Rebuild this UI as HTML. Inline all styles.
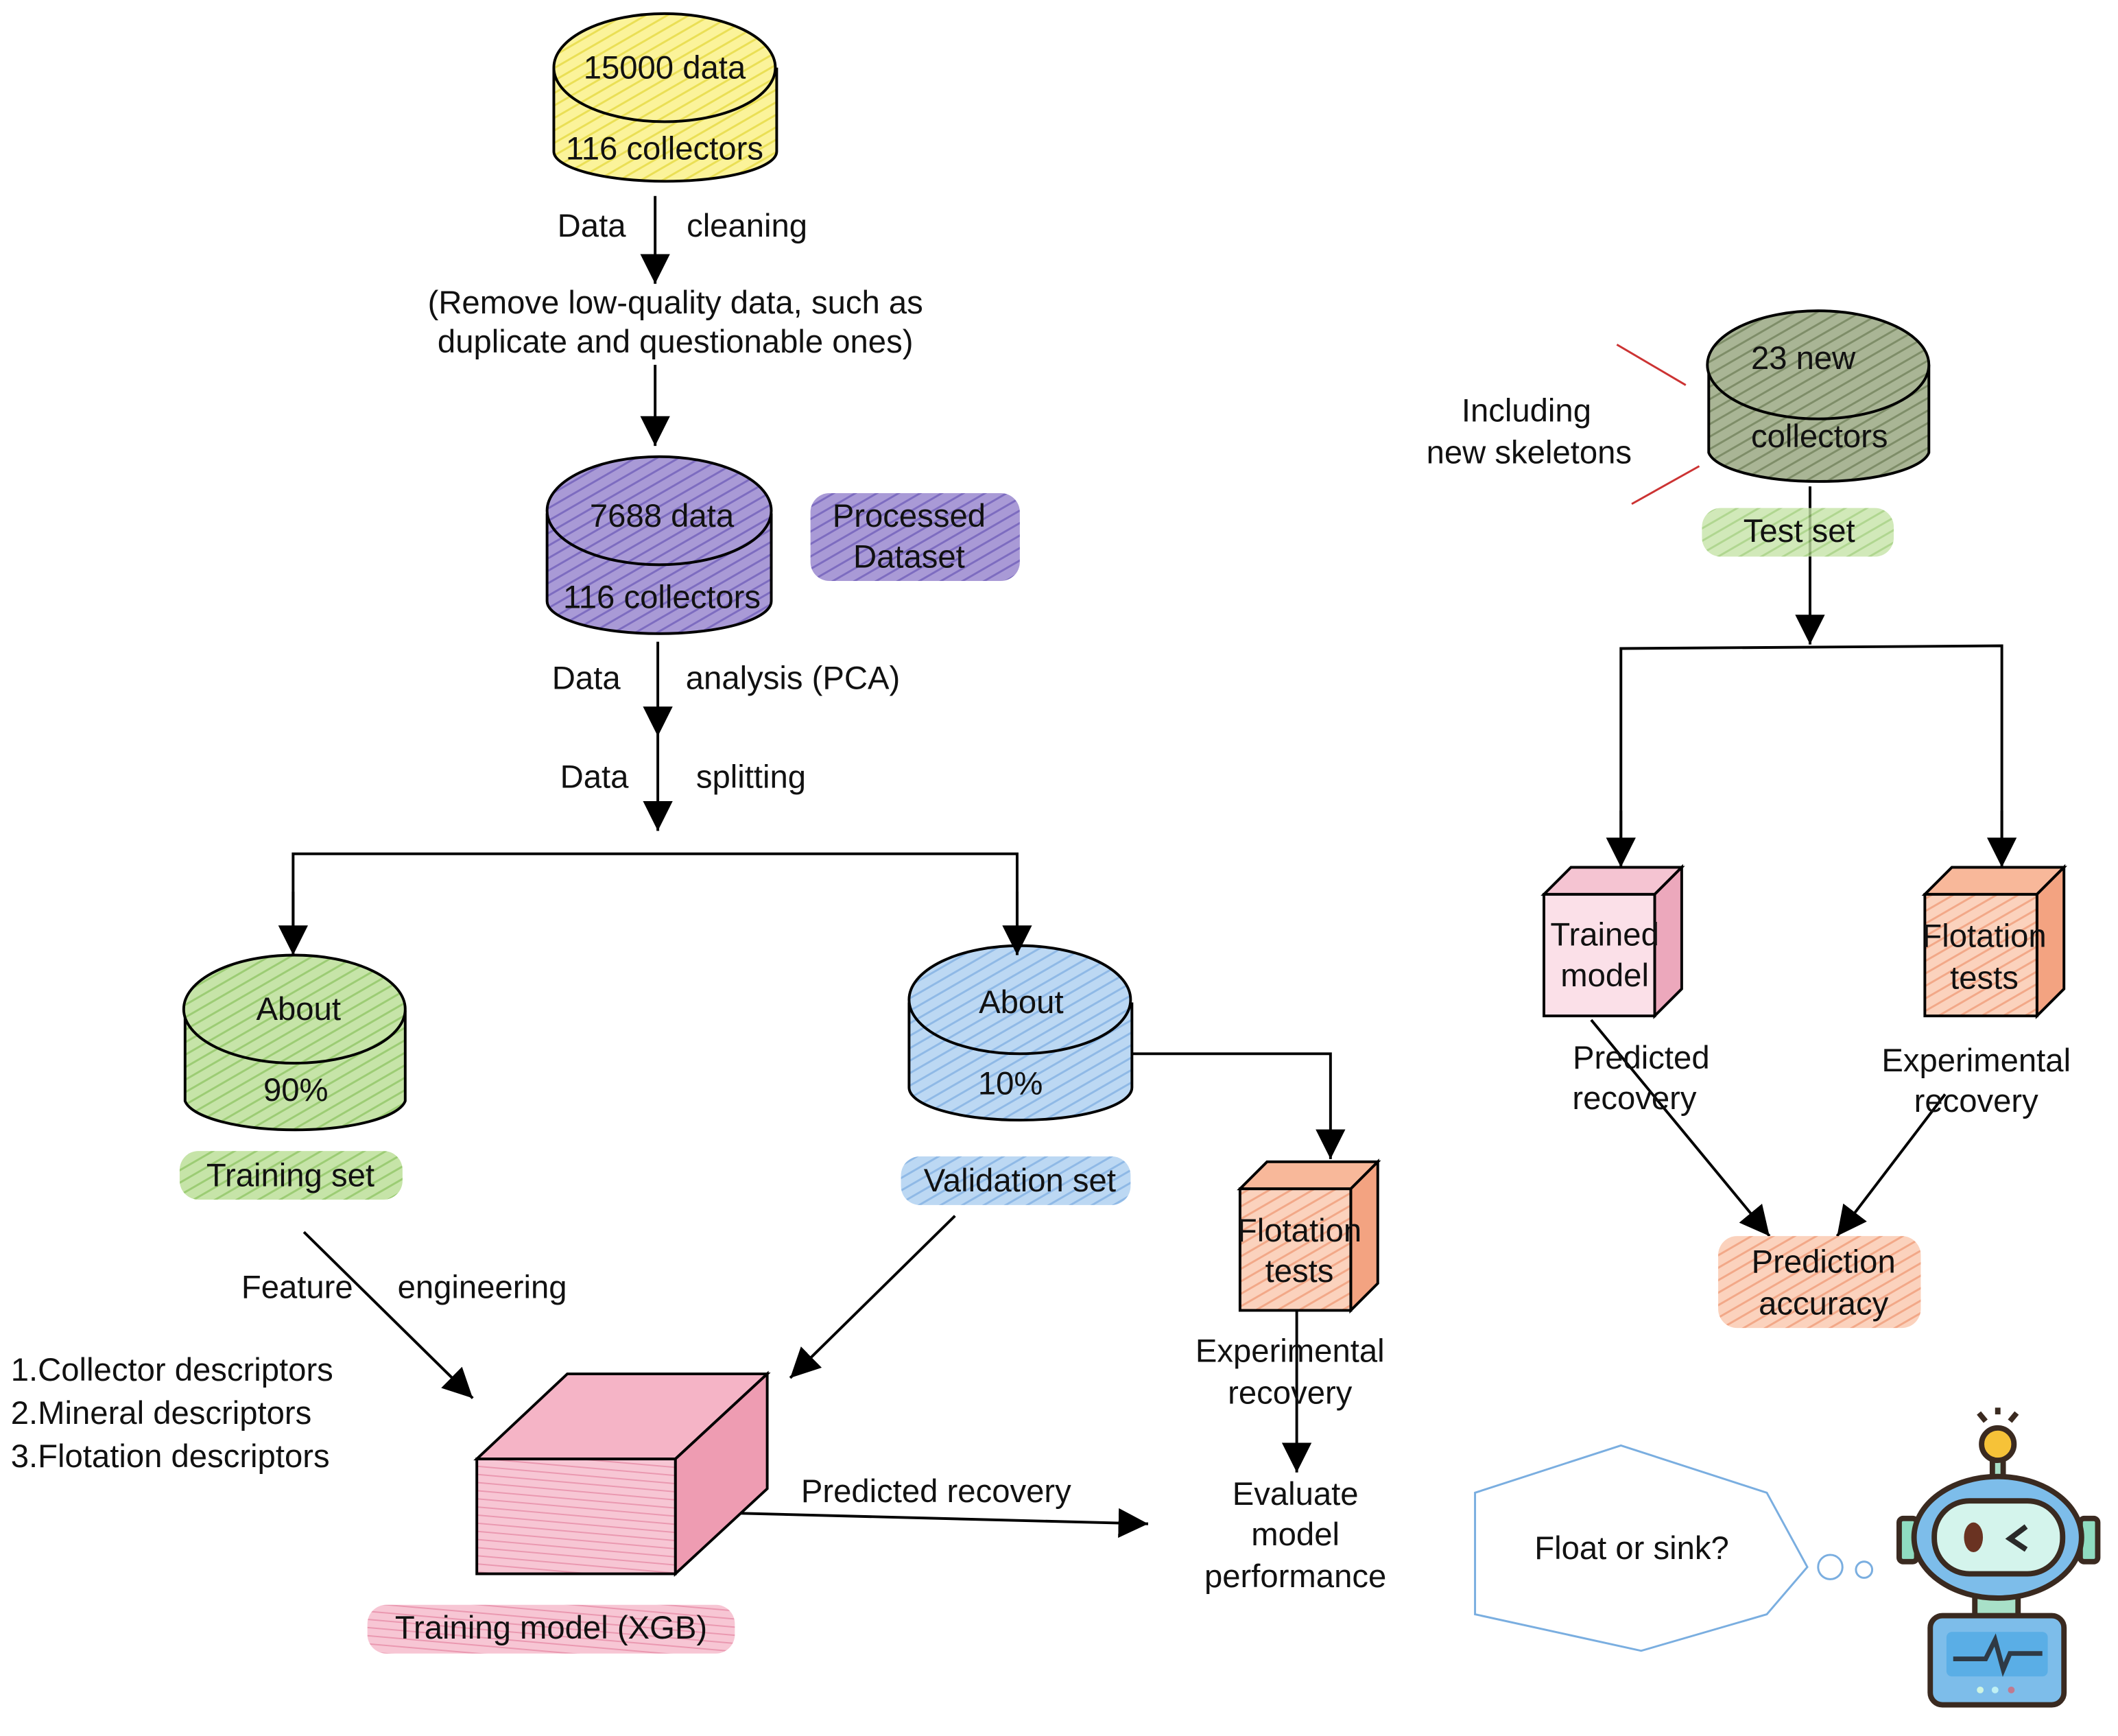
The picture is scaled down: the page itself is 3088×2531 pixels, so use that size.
<!DOCTYPE html>
<html><head><meta charset="utf-8"><style>
html,body{margin:0;padding:0;background:#fff;}
svg{display:block;}
text{font-family:"Liberation Sans",sans-serif;font-size:24px;fill:#111;text-anchor:middle;}
</style></head><body>
<svg width="3088" height="2531" viewBox="0 0 1568 1285" xmlns="http://www.w3.org/2000/svg">
<defs>
<marker id="ar" viewBox="0 0 10 10" refX="9" refY="5" markerWidth="8" markerHeight="8" markerUnits="userSpaceOnUse" orient="auto">
<path d="M0,0 L10,5 L0,10 z" fill="#000"/></marker>
<marker id="a" viewBox="0 0 10 10" refX="10" refY="5" markerWidth="22" markerHeight="22" markerUnits="userSpaceOnUse" orient="auto">
<path d="M0,0 L10,5 L0,10 z" fill="#000"/></marker>
<pattern id="hy" width="8" height="8" patternUnits="userSpaceOnUse" patternTransform="rotate(60)"><rect width="8" height="8" fill="#fbf39a"/><line x1="0" y1="0" x2="0" y2="8" stroke="#eadf55" stroke-width="3"/></pattern>
<pattern id="hp" width="8" height="8" patternUnits="userSpaceOnUse" patternTransform="rotate(60)"><rect width="8" height="8" fill="#a99ad6"/><line x1="0" y1="0" x2="0" y2="8" stroke="#7d6cc0" stroke-width="3"/></pattern>
<pattern id="hg" width="8" height="8" patternUnits="userSpaceOnUse" patternTransform="rotate(60)"><rect width="8" height="8" fill="#c6e4a8"/><line x1="0" y1="0" x2="0" y2="8" stroke="#9ccc74" stroke-width="3"/></pattern>
<pattern id="hb" width="8" height="8" patternUnits="userSpaceOnUse" patternTransform="rotate(60)"><rect width="8" height="8" fill="#bcd8f3"/><line x1="0" y1="0" x2="0" y2="8" stroke="#8fb9e6" stroke-width="3"/></pattern>
<pattern id="ho" width="8" height="8" patternUnits="userSpaceOnUse" patternTransform="rotate(60)"><rect width="8" height="8" fill="#a9b595"/><line x1="0" y1="0" x2="0" y2="8" stroke="#7e8d68" stroke-width="3"/></pattern>
<pattern id="hr" width="8" height="8" patternUnits="userSpaceOnUse" patternTransform="rotate(60)"><rect width="8" height="8" fill="#fbd2bd"/><line x1="0" y1="0" x2="0" y2="8" stroke="#f2a888" stroke-width="3"/></pattern>
<pattern id="hk" width="6" height="8" patternUnits="userSpaceOnUse" patternTransform="rotate(95)"><rect width="6" height="8" fill="#f7c6d4"/><line x1="0" y1="0" x2="0" y2="8" stroke="#ea98b0" stroke-width="2"/></pattern>
</defs>
<g stroke="#000" stroke-width="2">
<!-- yellow cylinder -->
<path d="M410,50 L410,112 A82,22 0 0 0 575,112 L575,50" fill="url(#hy)"/>
<ellipse cx="492" cy="50" rx="82" ry="40" fill="url(#hy)"/>
<!-- purple -->
<path d="M405,380 L405,445 A83,24 0 0 0 571,445 L571,380" fill="url(#hp)"/>
<ellipse cx="488" cy="378" rx="83" ry="40" fill="url(#hp)"/>
<!-- green -->
<path d="M137,748 L137,815 A82,24 0 0 0 300,815 L300,748" fill="url(#hg)"/>
<ellipse cx="218" cy="747" rx="82" ry="40" fill="url(#hg)"/>
<!-- blue -->
<path d="M673,742 L673,805 A82,24 0 0 0 838,805 L838,742" fill="url(#hb)"/>
<ellipse cx="755" cy="740" rx="82" ry="40" fill="url(#hb)"/>
<!-- olive -->
<path d="M1265,270 L1265,335 A82,24 0 0 0 1428,335 L1428,270" fill="url(#ho)"/>
<ellipse cx="1346" cy="270" rx="82" ry="40" fill="url(#ho)"/>
</g>
<g fill="none" stroke="#000" stroke-width="2">
<line x1="485" y1="145" x2="485" y2="210" marker-end="url(#a)"/>
<line x1="485" y1="270" x2="485" y2="330" marker-end="url(#a)"/>
<line x1="487" y1="475" x2="487" y2="545" marker-end="url(#a)"/>
<line x1="487" y1="545" x2="487" y2="615" marker-end="url(#a)"/>
<polyline points="217,705 217,632 753,632 753,705"/>
<line x1="217" y1="660" x2="217" y2="707" marker-end="url(#a)"/>
<line x1="753" y1="660" x2="753" y2="707" marker-end="url(#a)"/>
<polyline points="838,780 985,780 985,858" marker-end="url(#a)"/>
<line x1="960" y1="970" x2="960" y2="1090" marker-end="url(#a)"/>
<line x1="225" y1="912" x2="350" y2="1035" marker-end="url(#a)"/>
<line x1="707" y1="900" x2="585" y2="1020" marker-end="url(#a)"/>
<line x1="540" y1="1120" x2="850" y2="1128" marker-end="url(#a)"/>
<line x1="1340" y1="360" x2="1340" y2="477" marker-end="url(#a)"/>
<polyline points="1200,640 1200,480 1482,478 1482,640"/>
<line x1="1200" y1="600" x2="1200" y2="642" marker-end="url(#a)"/>
<line x1="1482" y1="600" x2="1482" y2="642" marker-end="url(#a)"/>
<line x1="1178" y1="755" x2="1310" y2="915" marker-end="url(#a)"/>
<line x1="1440" y1="810" x2="1360" y2="915" marker-end="url(#a)"/>
</g>
<line x1="1197" y1="255" x2="1248" y2="285" stroke="#c33" stroke-width="1.5"/>
<line x1="1208" y1="373" x2="1258" y2="345" stroke="#c33" stroke-width="1.5"/>
<!-- highlights -->
<rect x="600" y="365" width="155" height="65" rx="14" fill="url(#hp)"/>
<rect x="133" y="852" width="165" height="36" rx="14" fill="url(#hg)"/>
<rect x="667" y="856" width="170" height="36" rx="14" fill="url(#hb)"/>
<rect x="1260" y="376" width="142" height="36" rx="14" fill="url(#hg)" opacity=".8"/>
<rect x="1272" y="915" width="150" height="68" rx="14" fill="url(#hr)"/>
<rect x="272" y="1188" width="272" height="36" rx="14" fill="url(#hk)"/>
<!-- cubes -->
<g stroke="#000" stroke-width="2">
<path d="M918,880 L938,860 L1020,860 L1000,880 z" fill="#f8b89a"/>
<path d="M1000,880 L1020,860 L1020,950 L1000,970 z" fill="#f3a381"/>
<rect x="918" y="880" width="82" height="90" fill="url(#hr)"/>
<path d="M1143,662 L1163,642 L1245,642 L1225,662 z" fill="#f5c4d2"/>
<path d="M1225,662 L1245,642 L1245,732 L1225,752 z" fill="#eca8bc"/>
<rect x="1143" y="662" width="82" height="90" fill="#fbe0e8"/>
<path d="M1425,662 L1445,642 L1528,642 L1508,662 z" fill="#f8b89a"/>
<path d="M1508,662 L1528,642 L1528,732 L1508,752 z" fill="#f3a381"/>
<rect x="1425" y="662" width="83" height="90" fill="url(#hr)"/>
<path d="M353,1080 L420,1017 L568,1017 L500,1080 z" fill="#f5b4c6"/>
<path d="M500,1080 L568,1017 L568,1102 L500,1165 z" fill="#ee9cb2"/>
<rect x="353" y="1080" width="147" height="85" fill="url(#hk)"/>
</g>
<!-- speech -->
<polygon points="1092,1105 1200,1070 1308,1105 1338,1160 1308,1195 1215,1222 1092,1195" fill="#fff" stroke="#7aaee0" stroke-width="1.5"/>
<circle cx="1355" cy="1160" r="9" fill="#fff" stroke="#7aaee0" stroke-width="1.5"/>
<circle cx="1380" cy="1162" r="6" fill="#fff" stroke="#7aaee0" stroke-width="1.5"/>
<!-- robot -->
<g stroke="#3a2a20" stroke-width="4">
<line x1="1470" y1="1052" x2="1465" y2="1046"/><line x1="1479" y1="1047" x2="1479" y2="1042"/><line x1="1488" y1="1052" x2="1493" y2="1046"/>
<rect x="1475" y="1080" width="8" height="15" fill="#a8e0c8"/>
<circle cx="1479" cy="1069" r="12" fill="#f6c238"/>
<rect x="1406" y="1124" width="13" height="32" rx="3" fill="#8fdcc0"/>
<rect x="1540" y="1124" width="13" height="32" rx="3" fill="#8fdcc0"/>
<rect x="1462" y="1180" width="32" height="18" fill="#a8e0c8"/>
<ellipse cx="1479" cy="1138" rx="62" ry="45" fill="#7dbdea"/>
<rect x="1432" y="1111" width="95" height="54" rx="26" fill="#d4f4ec"/>
<rect x="1429" y="1196" width="99" height="66" rx="9" fill="#7dbdea"/>
</g>
<ellipse cx="1461" cy="1138" rx="7" ry="11" fill="#6a3322"/>
<polyline points="1500,1130 1488,1139 1500,1147" fill="none" stroke="#2a2a2a" stroke-width="4"/>
<rect x="1441" y="1208" width="75" height="33" rx="4" fill="#5aaee6"/>
<polyline points="1446,1228 1470,1228 1477,1214 1483,1236 1488,1224 1512,1224" fill="none" stroke="#2f3a45" stroke-width="3.5"/>
<circle cx="1466" cy="1251" r="2.5" fill="#cff4e0"/><circle cx="1477" cy="1251" r="2.5" fill="#bff0f4"/><circle cx="1489" cy="1251" r="2.5" fill="#c07a90"/>
<!-- text -->
<text x="492" y="58">15000 data</text>
<text x="492" y="118">116 collectors</text>
<text x="438" y="175">Data</text><text x="553" y="175">cleaning</text>
<text x="500" y="232">(Remove low-quality data, such as</text>
<text x="500" y="261">duplicate and questionable ones)</text>
<text x="490" y="390">7688 data</text>
<text x="490" y="450">116 collectors</text>
<text x="673" y="390">Processed</text><text x="673" y="420">Dataset</text>
<text x="434" y="510">Data</text><text x="587" y="510">analysis (PCA)</text>
<text x="440" y="583">Data</text><text x="556" y="583">splitting</text>
<text x="221" y="755">About</text><text x="219" y="815">90%</text>
<text x="215" y="878">Training set</text>
<text x="756" y="750">About</text><text x="748" y="810">10%</text>
<text x="755" y="882">Validation set</text>
<text x="962" y="919">Flotation</text><text x="962" y="949">tests</text>
<text x="955" y="1008">Experimental</text><text x="955" y="1039">recovery</text>
<text x="959" y="1114">Evaluate</text><text x="959" y="1144">model</text><text x="959" y="1175">performance</text>
<text x="220" y="961">Feature</text><text x="357" y="961">engineering</text>
<text x="8" y="1022" style="text-anchor:start">1.Collector descriptors</text>
<text x="8" y="1054" style="text-anchor:start">2.Mineral descriptors</text>
<text x="8" y="1086" style="text-anchor:start">3.Flotation descriptors</text>
<text x="693" y="1112">Predicted recovery</text>
<text x="408" y="1213">Training model (XGB)</text>
<text x="1335" y="273">23 new</text><text x="1347" y="331">collectors</text>
<text x="1332" y="401">Test set</text>
<text x="1130" y="312">Including</text><text x="1132" y="343">new skeletons</text>
<text x="1188" y="700">Trained</text><text x="1188" y="730">model</text>
<text x="1469" y="701">Flotation</text><text x="1469" y="732">tests</text>
<text x="1215" y="791">Predicted</text><text x="1210" y="821">recovery</text>
<text x="1463" y="793">Experimental</text><text x="1463" y="823">recovery</text>
<text x="1350" y="942">Prediction</text><text x="1350" y="973">accuracy</text>
<text x="1208" y="1154">Float or sink?</text>
</svg>
</body></html>
